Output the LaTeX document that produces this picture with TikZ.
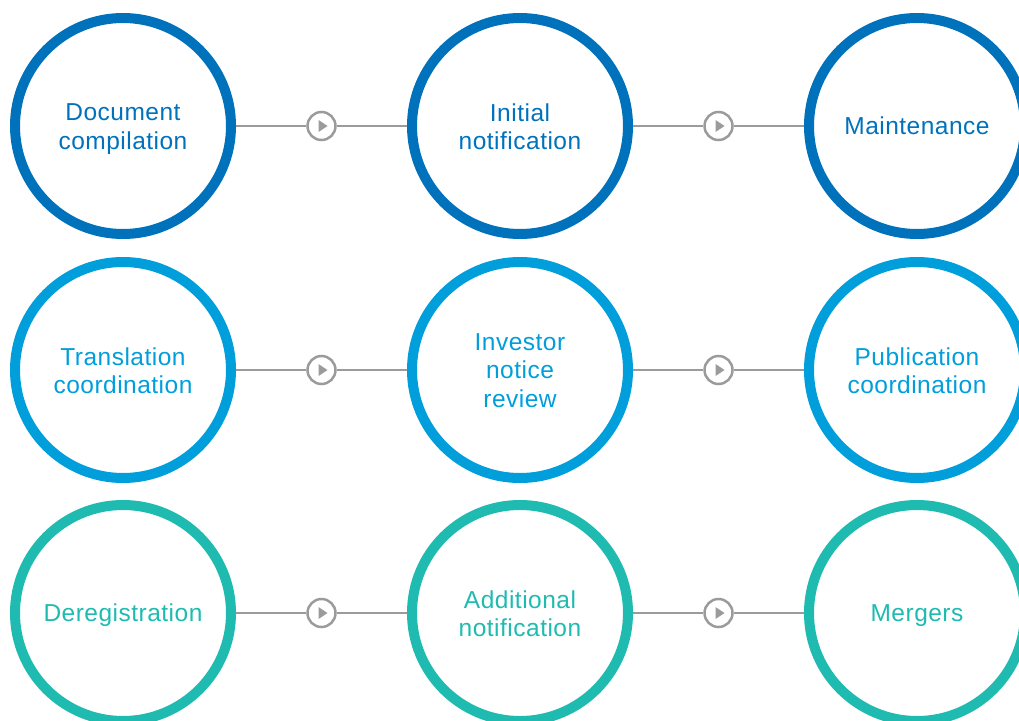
\documentclass[tikz,border=0pt]{standalone}
\usepackage{fontspec}
\usetikzlibrary{calc}
\setmainfont{Liberation Sans}[LetterSpace=2]
\definecolor{rowA}{RGB}{0,114,188}
\definecolor{rowB}{RGB}{0,158,219}
\definecolor{rowC}{RGB}{31,187,176}
\definecolor{conn}{RGB}{155,155,155}
\tikzset{
  stage/.style={circle, draw=#1, line width=10pt, minimum size=216pt, inner sep=0pt},
  stagetext/.style={text=#1, inner sep=0pt, align=center,
    font=\fontsize{24.5}{28.5}\selectfont,
    execute at begin node={\rule{0pt}{22.7pt}},
    execute at end node={\rule[-5.2pt]{0pt}{5.2pt}}},
  multi/.style={yshift=-3pt},
  playicon/.style={circle, draw=conn, line width=2.5pt, minimum size=28pt, inner sep=0pt},
  link/.style={draw=conn, line width=1.5pt}
}
\begin{document}
\begin{tikzpicture}[x=1pt,y=-1pt]
\useasboundingbox (0,0) rectangle (1019,720);
\clip (0,0) rectangle (1019,720);
% row 1
\node[stage=rowA, label={[stagetext=rowA, multi]center:{Document\\compilation}}] (a1) at (123,126) {};
\node[stage=rowA, label={[stagetext=rowA, multi]center:{Initial\\notification}}] (a2) at (520,126) {};
\node[stage=rowA, label={[stagetext=rowA]center:{Maintenance}}] (a3) at (917,126) {};
% row 2
\node[stage=rowB, label={[stagetext=rowB, multi]center:{Translation\\coordination}}] (b1) at (123,370) {};
\node[stage=rowB, label={[stagetext=rowB, multi]center:{Investor\\notice\\review}}] (b2) at (520,370) {};
\node[stage=rowB, label={[stagetext=rowB, multi]center:{Publication\\coordination}}] (b3) at (917,370) {};
% row 3
\node[stage=rowC, label={[stagetext=rowC]center:{Deregistration}}] (c1) at (123,613) {};
\node[stage=rowC, label={[stagetext=rowC, multi]center:{Additional\\notification}}] (c2) at (520,613) {};
\node[stage=rowC, label={[stagetext=rowC]center:{Mergers}}] (c3) at (917,613) {};
% icons and links
\foreach \r/\y in {a/126,b/370,c/613}{
  \node[playicon] (\r i1) at (321.5,\y) {};
  \node[playicon] (\r i2) at (718.5,\y) {};
  \fill[conn] ($(\r i1)+(-3,-6)$) -- ($(\r i1)+(6,0)$) -- ($(\r i1)+(-3,6)$) -- cycle;
  \fill[conn] ($(\r i2)+(-3,-6)$) -- ($(\r i2)+(6,0)$) -- ($(\r i2)+(-3,6)$) -- cycle;
  \draw[link] (\r 1.east) -- (\r i1.west);
  \draw[link] (\r i1.east) -- (\r 2.west);
  \draw[link] (\r 2.east) -- (\r i2.west);
  \draw[link] (\r i2.east) -- (\r 3.west);
}
\end{tikzpicture}
\end{document}
